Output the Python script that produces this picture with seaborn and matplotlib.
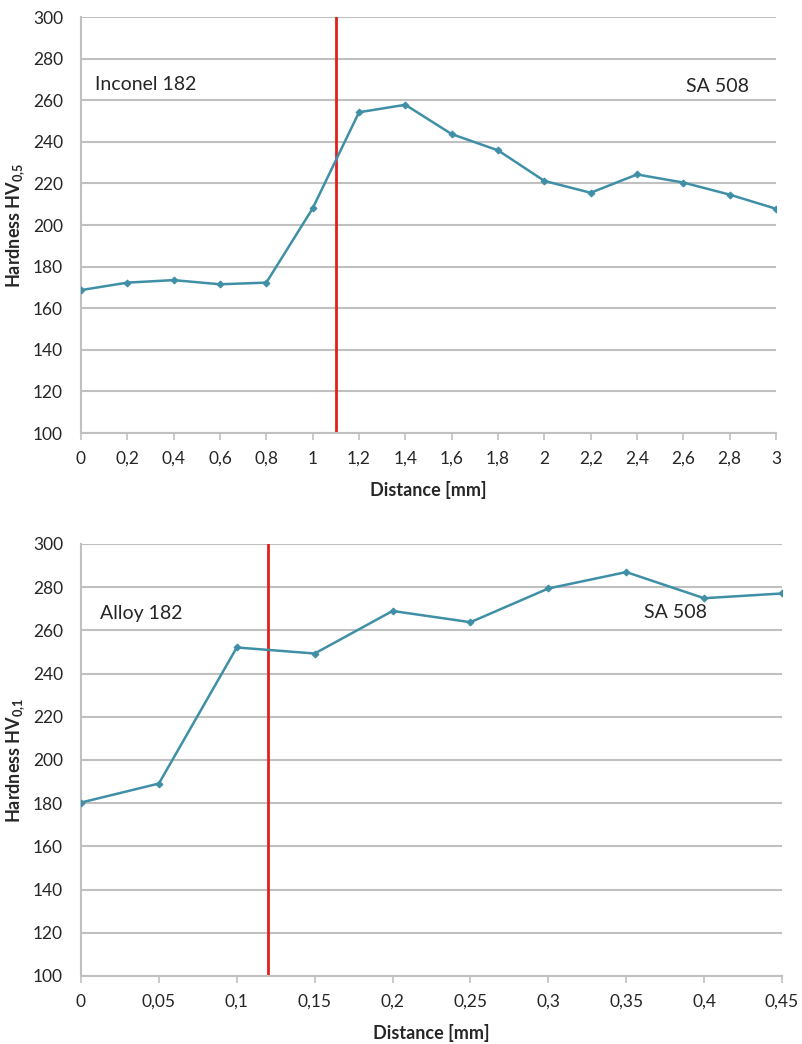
import matplotlib
matplotlib.use("Agg")
import matplotlib.pyplot as plt
import seaborn as sns
import pandas as pd

# ---- data ----
top_x = [0, 0.2, 0.4, 0.6, 0.8, 1.0, 1.2, 1.4, 1.6, 1.8, 2.0, 2.2, 2.4, 2.6, 2.8, 3.0]
top_hv = [168.7, 172.3, 173.5, 171.5, 172.3, 208, 254.2, 257.8, 243.7, 235.9, 221.2, 215.5, 224.3, 220.4, 214.6, 207.8]
top_xlabels = ["0", "0,2", "0,4", "0,6", "0,8", "1", "1,2", "1,4", "1,6", "1,8", "2", "2,2", "2,4", "2,6", "2,8", "3"]
top_boundary = 1.1

bot_x = [0, 0.05, 0.10, 0.15, 0.20, 0.25, 0.30, 0.35, 0.40, 0.45]
bot_hv = [180.3, 189.1, 252.1, 249.3, 269.0, 263.8, 279.4, 287.0, 274.9, 277.1]
bot_xlabels = ["0", "0,05", "0,1", "0,15", "0,2", "0,25", "0,3", "0,35", "0,4", "0,45"]
bot_boundary = 0.12

yticks = [100, 120, 140, 160, 180, 200, 220, 240, 260, 280, 300]

sns.set_theme(style="white")
plt.rcParams["font.family"] = ["Lato", "DejaVu Sans"]
plt.rcParams["mathtext.fontset"] = "custom"
plt.rcParams["mathtext.rm"] = "Lato"
plt.rcParams["mathtext.bf"] = "Lato:bold"

LINE = "#3f8fa6"
GRID = "#c0c0c0"
TXT = "#262626"

fig = plt.figure(figsize=(8.02, 10.44), dpi=100)
ax1 = fig.add_axes([81/802, 1-433/1044, (776-81)/802, (433-17)/1044])
ax2 = fig.add_axes([81/802, 1-976/1044, (782-81)/802, (976-544)/1044])


def style(ax, xs, xlabels, xmax, ylabel, boundary):
    ax.set_xlim(0, xmax)
    ax.set_ylim(100, 300)
    ax.set_yticks(yticks)
    ax.set_yticklabels([str(v) for v in yticks], fontsize=12.5, color=TXT)
    ax.set_xticks(xs)
    ax.set_xticklabels(xlabels, fontsize=12.5, color=TXT)
    ax.yaxis.grid(True, color=GRID, linewidth=1.5)
    ax.xaxis.grid(False)
    ax.set_axisbelow(True)
    for s in ["top", "right"]:
        ax.spines[s].set_visible(False)
    for s in ["left", "bottom"]:
        ax.spines[s].set_color(GRID)
        ax.spines[s].set_linewidth(1.5)
    ax.tick_params(axis="x", bottom=True, length=5, width=1.2, color=GRID, pad=8)
    ax.tick_params(axis="y", left=False, pad=7)
    ax.axvline(boundary, color="#e0201c", linewidth=2, zorder=2)
    ax.set_ylabel(ylabel, fontsize=13, fontweight="bold", color=TXT, labelpad=4)
    ax.set_xlabel("Distance [mm]", fontsize=13, fontweight="bold", color=TXT, labelpad=10)


df1 = pd.DataFrame({"Distance": top_x, "HV": top_hv})
sns.lineplot(data=df1, x="Distance", y="HV", ax=ax1, color=LINE, linewidth=1.8,
             marker="D", markersize=3.5, markeredgecolor=LINE, zorder=3)
style(ax1, top_x, top_xlabels, 3.0, r"Hardness HV$_{\mathbf{0{,}5}}$", top_boundary)

df2 = pd.DataFrame({"Distance": bot_x, "HV": bot_hv})
sns.lineplot(data=df2, x="Distance", y="HV", ax=ax2, color=LINE, linewidth=1.8,
             marker="D", markersize=3.5, markeredgecolor=LINE, zorder=3)
style(ax2, bot_x, bot_xlabels, 0.45, r"Hardness HV$_{\mathbf{0{,}1}}$", bot_boundary)

# annotations placed in axes coordinates
ax1.text((95-81)/(776-81), (433-85)/(433-17), "Inconel 182", transform=ax1.transAxes,
         fontsize=14, color=TXT, va="center", ha="left")
ax1.text((749-81)/(776-81), (433-86)/(433-17), "SA 508", transform=ax1.transAxes,
         fontsize=14, color=TXT, va="center", ha="right")
ax2.text((100-81)/(782-81), (976-613)/(976-544), "Alloy 182", transform=ax2.transAxes,
         fontsize=14, color=TXT, va="center", ha="left")
ax2.text((707-81)/(782-81), (976-613)/(976-544), "SA 508", transform=ax2.transAxes,
         fontsize=14, color=TXT, va="center", ha="right")

fig.savefig("out.png", dpi=100, facecolor="white")
